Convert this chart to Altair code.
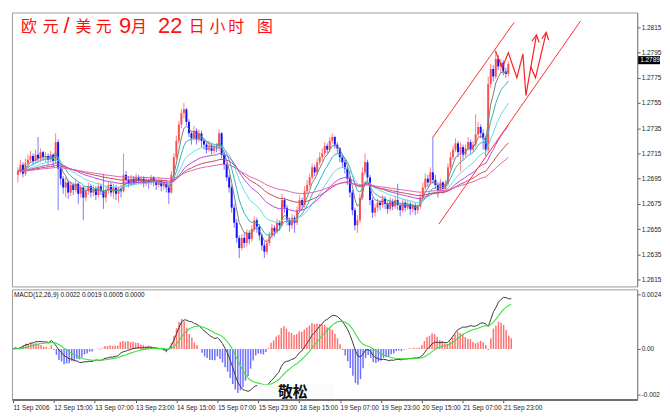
import altair as alt
import pandas as pd
import numpy as np

# ---------------- data (prices in pips above 1.2600) ----------------
BASE = 1.26
PIP = 0.0001
FIRST_OPEN_PIPS = 98
CLOSE_PIPS = [
    101, 106, 99, 107, 110, 113, 109, 114, 111, 116,
    112, 113, 110, 114, 109, 124, 103, 95, 88, 92,
    84, 90, 86, 91, 83, 88, 80, 85, 89, 84,
    87, 82, 89, 85, 80, 86, 90, 84, 88, 83,
    87, 85, 98, 94, 91, 95, 92, 96, 93, 95,
    91, 94, 92, 96, 93, 90, 93, 89, 92, 88,
    84, 98, 112, 125, 138, 147, 150, 140, 131, 127,
    133, 126, 131, 125, 122, 118, 121, 117, 120, 119,
    131, 114, 106, 96, 88, 72, 60, 48, 40, 48,
    44, 52, 47, 55, 62, 57, 50, 42, 37, 44,
    50, 56, 53, 60, 58, 78, 72, 62, 58, 64,
    60, 70, 78, 74, 85, 90, 96, 104, 100, 108,
    112, 115, 121, 118, 125, 128, 122, 119, 112, 108,
    103, 95, 84, 70, 58, 62, 80, 100, 108, 96,
    78, 68, 72, 76, 74, 79, 75, 71, 77, 73,
    78, 74, 70, 76, 72, 75, 71, 74, 70, 73,
    80, 88, 95, 92, 100, 94, 90, 86, 92, 87,
    91, 104, 112, 118, 123, 116, 120, 114, 119, 124,
    118, 122, 130, 136, 131, 127, 118, 170, 182, 176,
    190, 184, 187, 180, 178, 186,
]
HIGH_PIPS = [
    104, 110, 108, 111, 114, 117, 115, 118, 128, 119,
    117, 116, 115, 117, 115, 131, 126, 105, 97, 96,
    94, 93, 92, 94, 92, 90, 89, 88, 92, 91,
    90, 89, 92, 91, 99, 89, 93, 92, 91, 90,
    89, 90, 115, 101, 97, 98, 97, 99, 98, 97,
    97, 96, 95, 98, 97, 95, 96, 95, 94, 94,
    90, 101, 115, 129, 141, 150, 155, 151, 142, 133,
    137, 135, 134, 133, 127, 124, 124, 123, 122, 123,
    134, 132, 116, 108, 98, 90, 75, 63, 50, 51,
    52, 55, 54, 58, 65, 64, 59, 52, 45, 47,
    53, 59, 58, 63, 62, 83, 80, 74, 64, 67,
    66, 73, 82, 80, 89, 94, 99, 107, 106, 111,
    116, 119, 124, 123, 128, 131, 129, 124, 120, 114,
    110, 104, 97, 86, 72, 66, 83, 104, 115, 110,
    98, 80, 75, 79, 78, 82, 81, 77, 80, 79,
    81, 91, 76, 79, 78, 78, 77, 76, 76, 75,
    83, 92, 99, 98, 104, 127, 98, 92, 95, 93,
    94, 107, 116, 121, 127, 125, 124, 122, 122, 128,
    126, 125, 146, 140, 138, 134, 129, 176, 186, 185,
    197, 193, 190, 189, 183, 188,
]
LOW_PIPS = [
    92, 99, 96, 97, 104, 108, 106, 107, 108, 108,
    109, 108, 106, 108, 104, 107, 70, 90, 83, 80,
    79, 81, 82, 84, 75, 80, 62, 77, 82, 80,
    81, 78, 80, 82, 71, 76, 83, 81, 79, 78,
    76, 80, 84, 90, 88, 89, 90, 90, 91, 90,
    88, 89, 87, 90, 89, 86, 88, 85, 86, 84,
    75, 83, 96, 110, 123, 135, 143, 137, 128, 122,
    125, 122, 124, 120, 118, 115, 116, 114, 115, 116,
    117, 111, 102, 93, 84, 68, 56, 44, 32, 38,
    40, 41, 43, 45, 53, 52, 46, 38, 32, 35,
    42, 48, 49, 51, 54, 57, 68, 58, 53, 55,
    52, 58, 68, 70, 72, 83, 88, 94, 97, 98,
    106, 109, 113, 115, 116, 123, 119, 115, 108, 104,
    99, 90, 80, 66, 54, 52, 60, 78, 98, 92,
    74, 64, 65, 69, 70, 72, 71, 67, 69, 70,
    71, 70, 65, 68, 69, 70, 66, 68, 66, 67,
    71, 78, 86, 88, 90, 91, 87, 80, 84, 83,
    85, 89, 102, 110, 116, 112, 101, 110, 112, 117,
    115, 116, 120, 128, 127, 118, 113, 115, 167, 172,
    174, 181, 179, 177, 175, 176,
]

TIME_LABELS = ["11 Sep 2006", "12 Sep 15:00", "13 Sep 07:00", "13 Sep 23:00",
               "14 Sep 15:00", "15 Sep 07:00", "15 Sep 23:00", "18 Sep 15:00",
               "19 Sep 07:00", "19 Sep 23:00", "20 Sep 15:00", "21 Sep 07:00",
               "21 Sep 23:00"]
LABEL_STEP = 16
PRICE_TICKS = [1.2615, 1.2635, 1.2655, 1.2675, 1.2695, 1.2715,
               1.2735, 1.2755, 1.2775, 1.2795, 1.2815]
LAST_PRICE = 1.2789
MACD_TICKS = [0.0024, 0.0, -0.002]
MACD_HEADER = "MACD(12,26,9) 0.0022 0.0019 0.0005 0.0000"

MA_PERIODS = [5, 10, 20, 35, 55, 90]
MA_COLORS = ["#7c7c7c", "#2fb3b3", "#62dede", "#b24ae6", "#c44c4c", "#de62b4"]

# trend channel drawn on the chart: (bar index, pips)
CHANNEL_UPPER = [(164.7, 127), (197.3, 219)]
CHANNEL_LOWER = [(167.4, 59), (223.7, 220)]
# forecast zig-zag with two arrows (bar index, pips)
ZIGZAG = [(189.9, 196), (192.6, 183), (195.0, 195), (198.4, 175),
          (200.8, 194), (202.0, 161), (206.2, 209)]
ZIGZAG2 = [(203.9, 184), (205.8, 175), (210.1, 211)]
HEADS = [[(204.4, 204), (206.2, 209), (207.3, 203)],
         [(208.3, 206), (210.1, 211), (211.0, 205)]]

# ---------------- frames ----------------
close = BASE + np.array(CLOSE_PIPS) * PIP
high = BASE + np.array(HIGH_PIPS) * PIP
low = BASE + np.array(LOW_PIPS) * PIP
opn = np.r_[BASE + FIRST_OPEN_PIPS * PIP, close[:-1]]
n = len(close)
cd = pd.DataFrame({"i": np.arange(n), "open": opn, "high": high, "low": low, "close": close})

cs = pd.Series(close)
ma_rows = []
for p in MA_PERIODS:
    v = cs.ewm(span=p, adjust=False).mean()
    ma_rows.append(pd.DataFrame({"i": np.arange(n), "v": v, "ma": f"EMA{p}"}))
ma = pd.concat(ma_rows)

ema12 = cs.ewm(span=12, adjust=False).mean()
ema26 = cs.ewm(span=26, adjust=False).mean()
macd = ema12 - ema26
sig = macd.ewm(span=9, adjust=False).mean()
md = pd.DataFrame({"i": np.arange(n), "macd": macd, "sig": sig, "hist": 2 * (macd - sig)})


def seg(points, name):
    return pd.DataFrame({"i": [p[0] for p in points],
                         "price": [BASE + p[1] * PIP for p in points],
                         "k": range(len(points)), "g": name})


chan = pd.concat([seg(CHANNEL_UPPER, "u"), seg(CHANNEL_LOWER, "l")])
zz = pd.concat([seg(ZIGZAG, "z1"), seg(ZIGZAG2, "z2")] +
               [seg(h, f"h{j}") for j, h in enumerate(HEADS)])

# ---------------- scales / axes ----------------
X_DOM = [-0.39, 244.27]
xs = alt.Scale(domain=X_DOM, nice=False, zero=False)
ys = alt.Scale(domain=[1.26095, 1.28268], nice=False, zero=False)
ms = alt.Scale(domain=[-0.002225, 0.002618], nice=False, zero=False)
W = 630

PRICE_AXIS = alt.Axis(orient="right", values=PRICE_TICKS, format=".4f", grid=False,
                      tickSize=3, labelPadding=1, labelFontSize=6.5, labelOverlap=False,
                      labelBound=False, domainColor="#808080", tickColor="#606060",
                      labelColor="#222", title=None)


def PY(field):
    return alt.Y(field, scale=ys, axis=PRICE_AXIS, title=None)


def PX():
    return alt.X("i:Q", scale=xs, axis=None)


up = "datum.close >= datum.open"
wick = alt.Chart(cd).mark_rule(strokeWidth=1).encode(
    x=PX(), y=PY("low:Q"), y2="high:Q",
    color=alt.condition(up, alt.value("#ff8080"), alt.value("#7878ff")),
)
body = alt.Chart(cd).mark_bar(size=2).encode(
    x=PX(), y=PY("open:Q"), y2="close:Q",
    color=alt.condition(up, alt.value("#ff5050"), alt.value("#1010ff")),
)
ma_lines = alt.Chart(ma).mark_line(strokeWidth=1).encode(
    x=PX(), y=PY("v:Q"),
    color=alt.Color("ma:N", scale=alt.Scale(domain=[f"EMA{p}" for p in MA_PERIODS], range=MA_COLORS),
                    legend=None),
)
chan_lines = alt.Chart(chan).mark_line(strokeWidth=1, color="#ff3030").encode(
    x=PX(), y=PY("price:Q"), detail="g:N", order="k:Q")
zz_lines = alt.Chart(zz).mark_line(strokeWidth=1.2, color="#ff2020").encode(
    x=PX(), y=PY("price:Q"), detail="g:N", order="k:Q")

# title pieces (layout, pixel positions in the plot)
TITLE_CJK = pd.DataFrame({"t": ["欧", "元", "美", "元", "月", "日", "小", "时", "图"],
                          "px": [17, 39, 72, 92.5, 128, 186, 207, 226, 255]})
TITLE_LAT = pd.DataFrame({"t": ["/", "9", "22"], "px": [55, 114, 159.5]})


def title_layer(df, font, size, color, yy):
    return alt.Chart(df).mark_text(font=font, fontSize=size, color=color,
                                   baseline="middle", align="center").encode(
        x=alt.X("px:Q", scale=None), y=alt.value(yy), text="t:N")


titles = [
    title_layer(TITLE_CJK, "Noto Sans CJK SC", 16, "#ff1010", 15),
    title_layer(TITLE_LAT, "Liberation Sans", 22, "#ff1010", 14),
]

tag_df = pd.DataFrame({"p": [LAST_PRICE], "t": [f"{LAST_PRICE:.4f}"]})
tag_rect = alt.Chart(tag_df).mark_rect(color="black").encode(
    x=alt.value(631), x2=alt.value(653),
    y=PY("top:Q"), y2="bot:Q").transform_calculate(
    top="datum.p + 0.00032", bot="datum.p - 0.00032")
tag_text = alt.Chart(tag_df).mark_text(color="white", fontSize=6.5, font="Liberation Sans",
                                       align="left", baseline="middle").encode(
    x=alt.value(633), y=PY("p:Q"), text="t:N")

main = alt.layer(wick, body, ma_lines, chan_lines, zz_lines, *titles, tag_rect, tag_text).properties(
    width=W, height=276)

# ---------------- MACD panel ----------------
label_expr = "[" + ",".join(f"'{s}'" for s in TIME_LABELS) + "][round(datum.value / %d)]" % LABEL_STEP
TIME_AXIS = alt.Axis(values=[k * LABEL_STEP for k in range(len(TIME_LABELS))],
                     labelExpr=label_expr, labelAlign="left", labelPadding=2,
                     tickSize=3, labelFontSize=6.5, labelColor="#222", grid=False,
                     domainColor="#707070", domainWidth=2, tickColor="#505050",
                     labelFlush=False, labelOverlap=False, title=None)
MACD_AXIS = alt.Axis(orient="right", values=MACD_TICKS, grid=False, tickSize=3,
                     labelExpr="datum.value == 0 ? '0.00' : (datum.value > 0 ? '0.0024' : '-0.002')",
                     labelPadding=1, labelFontSize=6.5, labelColor="#222", labelOverlap=False,
                     domainColor="#808080", tickColor="#606060", title=None)


def MX():
    return alt.X("i:Q", scale=xs, axis=TIME_AXIS, title=None)


def MY(field):
    return alt.Y(field, scale=ms, axis=MACD_AXIS, title=None)


hist = alt.Chart(md).mark_rule(strokeWidth=1.5).encode(
    x=MX(), y=MY("hist:Q"), y2=alt.datum(0),
    color=alt.condition("datum.hist >= 0", alt.value("#ff7070"), alt.value("#7070ff")),
)
macd_line = alt.Chart(md).mark_line(strokeWidth=1, color="#3a3a3a").encode(x=MX(), y=MY("macd:Q"))
sig_line = alt.Chart(md).mark_line(strokeWidth=1.1, color="#3ee03e").encode(x=MX(), y=MY("sig:Q"))
header = alt.Chart(pd.DataFrame({"t": [MACD_HEADER]})).mark_text(
    fontSize=6.5, font="Liberation Sans", align="left", baseline="middle", color="#111").encode(
    x=alt.value(2), y=alt.value(6), text="t:N")
sig_box = alt.Chart(pd.DataFrame({"a": [0]})).mark_rect(color="#fbfbfb").encode(
    x=alt.value(247), x2=alt.value(325), y=alt.value(96), y2=alt.value(110))
sig_text = alt.Chart(pd.DataFrame({"t": ["敬松"]})).mark_text(
    font="Noto Sans CJK SC", fontWeight="bold", fontSize=15, color="#111",
    align="center", baseline="middle").encode(x=alt.value(283), y=alt.value(103), text="t:N")

lower = alt.layer(hist, macd_line, sig_line, header, sig_box, sig_text).properties(width=W, height=111)

chart = alt.vconcat(main, lower, spacing=1).properties(
    padding={"left": 2, "top": 2, "right": 0, "bottom": 0},
    background="white",
).configure_view(stroke="#9a9a9a", strokeWidth=1).configure_axis(
    labelFont="Liberation Sans", labelOverlap=False)

chart.save("out.html", embed_options={"renderer": "svg", "actions": False})
